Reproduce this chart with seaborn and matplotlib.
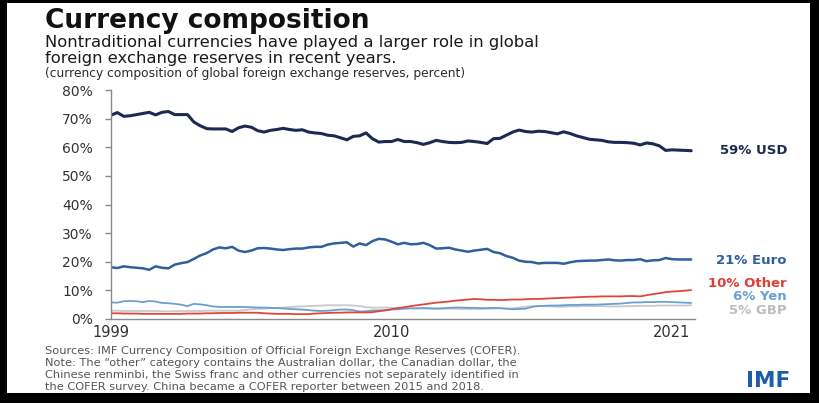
import numpy as np
import pandas as pd
import matplotlib
matplotlib.use("Agg")
import matplotlib.pyplot as plt
from matplotlib.patches import Rectangle
import seaborn as sns

# Quarterly shares of global FX reserves, 1999Q1 - 2021Q4 (percent)
periods = pd.period_range("1999Q1", "2021Q4", freq="Q")

usd = [71.2, 72.1, 70.8, 71.0, 71.4, 71.8, 72.2, 71.3, 72.2, 72.5, 71.4, 71.4,
       71.4, 68.8, 67.5, 66.5, 66.4, 66.4, 66.4, 65.5, 66.8, 67.4, 67.0, 65.8,
       65.3, 65.9, 66.2, 66.6, 66.2, 65.9, 66.1, 65.3, 65.0, 64.8, 64.2, 64.0,
       63.3, 62.6, 63.8, 64.0, 65.0, 63.0, 61.8, 62.0, 62.0, 62.7, 62.0, 62.0,
       61.6, 61.0, 61.6, 62.4, 62.0, 61.7, 61.6, 61.7, 62.2, 62.0, 61.7, 61.3,
       63.0, 63.1, 64.2, 65.3, 66.0, 65.5, 65.3, 65.6, 65.5, 65.1, 64.7, 65.4,
       64.8, 64.0, 63.4, 62.8, 62.6, 62.4, 61.9, 61.7, 61.7, 61.6, 61.4, 60.8,
       61.5, 61.2, 60.5, 58.9, 59.1, 59.0, 58.9, 58.8]
euro = [18.1, 17.8, 18.4, 18.1, 17.9, 17.7, 17.2, 18.4, 17.9, 17.7, 19.0, 19.5,
        19.9, 21.0, 22.2, 23.0, 24.3, 25.0, 24.7, 25.2, 23.9, 23.4, 23.9, 24.7,
        24.8, 24.6, 24.3, 24.1, 24.4, 24.6, 24.6, 25.0, 25.2, 25.2, 26.0, 26.4,
        26.6, 26.8, 25.3, 26.4, 25.8, 27.2, 28.0, 27.8, 27.0, 26.1, 26.6, 26.1,
        26.2, 26.6, 25.8, 24.6, 24.7, 24.9, 24.3, 23.9, 23.5, 23.9, 24.2, 24.5,
        23.4, 23.0, 22.0, 21.4, 20.4, 20.0, 19.9, 19.4, 19.6, 19.6, 19.6, 19.3,
        19.8, 20.2, 20.3, 20.4, 20.4, 20.6, 20.8, 20.5, 20.4, 20.6, 20.6, 20.9,
        20.2, 20.5, 20.6, 21.3, 20.9, 20.8, 20.8, 20.8]
yen = [5.8, 5.7, 6.2, 6.3, 6.2, 5.9, 6.3, 6.1, 5.6, 5.5, 5.3, 5.0,
       4.5, 5.3, 5.1, 4.8, 4.4, 4.2, 4.2, 4.2, 4.2, 4.2, 4.1, 4.0,
       4.0, 3.9, 3.8, 3.7, 3.5, 3.4, 3.3, 3.1, 2.9, 2.8, 2.9, 3.1,
       3.3, 3.3, 3.1, 2.6, 2.7, 3.0, 3.0, 3.1, 3.3, 3.4, 3.6, 3.7,
       3.7, 3.8, 3.7, 3.6, 3.7, 3.9, 4.0, 4.0, 3.9, 3.9, 3.8, 3.8,
       3.9, 3.8, 3.6, 3.4, 3.5, 3.6, 4.2, 4.5, 4.6, 4.7, 4.7, 4.8,
       4.9, 4.9, 5.0, 5.0, 5.0, 5.1, 5.2, 5.3, 5.4, 5.6, 5.8, 5.8,
       5.9, 5.9, 6.0, 6.0, 5.9, 5.8, 5.7, 5.6]
gbp = [2.9, 2.9, 2.8, 2.8, 2.8, 2.8, 2.8, 2.8, 2.7, 2.7, 2.7, 2.8,
       2.8, 2.8, 2.8, 2.9, 2.9, 2.9, 2.9, 2.9, 2.9, 3.1, 3.4, 3.5,
       3.6, 3.8, 3.9, 4.0, 4.2, 4.3, 4.4, 4.5, 4.6, 4.7, 4.8, 4.8,
       4.8, 4.8, 4.7, 4.5, 4.1, 4.0, 4.0, 4.0, 3.9, 3.9, 3.8, 3.8,
       3.8, 3.7, 3.7, 3.7, 3.7, 3.6, 3.6, 3.5, 3.5, 3.5, 3.5, 3.6,
       3.6, 3.7, 3.7, 3.7, 4.0, 4.3, 4.5, 4.6, 4.5, 4.4, 4.3, 4.3,
       4.4, 4.4, 4.5, 4.5, 4.5, 4.5, 4.4, 4.4, 4.4, 4.5, 4.5, 4.6,
       4.6, 4.6, 4.7, 4.7, 4.7, 4.7, 4.7, 4.8]
other = [2.0, 2.0, 1.9, 1.9, 1.9, 1.8, 1.8, 1.8, 1.8, 1.8, 1.8, 1.8,
         1.9, 1.9, 1.9, 2.0, 2.0, 2.1, 2.1, 2.1, 2.2, 2.2, 2.2, 2.2,
         2.0, 1.9, 1.8, 1.8, 1.8, 1.7, 1.7, 1.7, 1.9, 2.0, 2.1, 2.2,
         2.2, 2.3, 2.3, 2.3, 2.3, 2.4, 2.7, 3.0, 3.4, 3.8, 4.1, 4.5,
         4.8, 5.1, 5.4, 5.7, 5.9, 6.1, 6.4, 6.6, 6.8, 7.0, 6.9, 6.7,
         6.7, 6.6, 6.7, 6.8, 6.8, 6.9, 7.0, 7.0, 7.1, 7.2, 7.3, 7.4,
         7.5, 7.6, 7.7, 7.8, 7.8, 7.9, 7.9, 7.9, 7.9, 8.0, 8.0, 7.9,
         8.3, 8.7, 9.0, 9.4, 9.6, 9.7, 9.9, 10.1]

currencies = ["GBP", "Yen", "Other", "Euro", "USD"]
series = {"USD": usd, "Euro": euro, "Yen": yen, "GBP": gbp, "Other": other}
colors = {"USD": "#1a2a50", "Euro": "#2f5f9c", "Yen": "#6b9fd2",
          "GBP": "#c9c9c9", "Other": "#e0453d"}
label_colors = {"USD": "#1a2a50", "Euro": "#2f5f9c", "Yen": "#6b9fd2",
                "GBP": "#bdbdbd", "Other": "#de3f37"}
widths = {"USD": 2.2, "Euro": 1.8, "Yen": 1.3, "GBP": 1.3, "Other": 1.3}
label_y = {"USD": 59.0, "Euro": 20.6, "Other": 12.4, "Yen": 7.7, "GBP": 3.0}

x_ticks = [1999, 2010, 2021]
y_ticks = [0, 10, 20, 30, 40, 50, 60, 70, 80]

t = np.array([p.year + (p.quarter - 1) / 4 for p in periods])
df = pd.concat([pd.DataFrame({"time": t, "share": series[c], "currency": c})
                for c in currencies], ignore_index=True)

sns.set_theme(style="white")
plt.rcParams["font.family"] = ["DejaVu Sans"]

W, H = 819, 403
fig = plt.figure(figsize=(W / 100, H / 100), dpi=100)
fig.patch.set_facecolor("black")
fig.patches.append(Rectangle((7 / W, 1 - 393 / H), (810 - 7) / W, (393 - 3) / H,
                             transform=fig.transFigure, facecolor="white",
                             edgecolor="none", zorder=-10))

ax = fig.add_axes([111 / W, 1 - 319 / H, (695 - 111) / W, (319 - 90) / H])
ax.set_facecolor("none")
ax.set_zorder(5)

for c in currencies:
    sns.lineplot(data=df[df["currency"] == c], x="time", y="share",
                 color=colors[c], linewidth=widths[c], ax=ax, legend=False)

ax.set_xlim(1999, 2021.9)
ax.set_ylim(0, 80)
ax.set_xlabel("")
ax.set_ylabel("")
ax.set_yticks(y_ticks)
ax.set_yticklabels([f"{v}%" for v in y_ticks])
ax.set_xticks(x_ticks)
ax.set_xticklabels([str(v) for v in x_ticks])
for s in ["top", "right"]:
    ax.spines[s].set_visible(False)
for s in ["left", "bottom"]:
    ax.spines[s].set_color("#8a8a8a")
    ax.spines[s].set_linewidth(1.0)
ax.tick_params(axis="y", length=4.5, width=1, color="#8a8a8a", labelsize=10,
               labelcolor="#333333", pad=8.5, left=True)
ax.tick_params(axis="x", length=0, labelsize=10.5, labelcolor="#333333", pad=4)

# end-of-line labels, right aligned
label_x = (787 - 111) / (695 - 111)
for c in ["USD", "Euro", "Other", "Yen", "GBP"]:
    last = series[c][-1]
    ax.text(label_x, label_y[c], f"{round(last)}% {c}", transform=ax.get_yaxis_transform(),
            ha="right", va="center", fontsize=9.5, fontweight="bold",
            color=label_colors[c], clip_on=False)

fig.canvas.draw()
renderer = fig.canvas.get_renderer()


def fit(txt, width_px):
    w = txt.get_window_extent(renderer).width
    txt.set_fontsize(txt.get_fontsize() * width_px / w)
    return txt


def fy(py):
    return 1 - py / H


left = 45 / W
title = fig.text(left, fy(28.5), "Currency composition", fontsize=17,
                 fontweight="bold", color="#111111", va="baseline")
fit(title, 325)
sub1 = fig.text(left, fy(47), "Nontraditional currencies have played a larger role in global",
                fontsize=11.8, color="#1a1a1a", va="baseline")
sub2 = fig.text(left, fy(63), "foreign exchange reserves in recent years.",
                fontsize=11.8, color="#1a1a1a", va="baseline")
note = fig.text(left, fy(77), "(currency composition of global foreign exchange reserves, percent)",
                fontsize=8.8, color="#2a2a2a", va="baseline")

footer = [
    "Sources: IMF Currency Composition of Official Foreign Exchange Reserves (COFER).",
    "Note: The \u201cother\u201d category contains the Australian dollar, the Canadian dollar, the",
    "Chinese renminbi, the Swiss franc and other currencies not separately identified in",
    "the COFER survey. China became a COFER reporter between 2015 and 2018.",
]
for i, line in enumerate(footer):
    fig.text(left, fy(354 + 12 * i), line, fontsize=8.2,
             color="#555555", va="baseline")

logo = fig.text(790 / W, fy(387), "IMF", fontsize=15, fontweight="heavy",
                color="#1d5ca8", ha="right", va="baseline")
fit(logo, 44)

fig.savefig("out.png", dpi=100, facecolor=fig.get_facecolor())
